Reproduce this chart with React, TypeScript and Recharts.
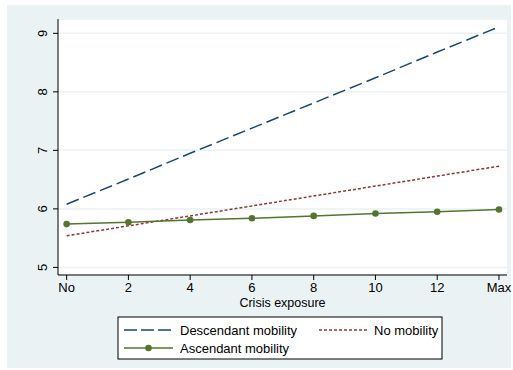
import { LineChart, Line, XAxis, YAxis, CartesianGrid } from 'recharts';

const exposure = [0, 2, 4, 6, 8, 10, 12, 14];
const xTickLabels = ['No', '2', '4', '6', '8', '10', '12', 'Max'];
const yTicks = [5, 6, 7, 8, 9];

const descendant = [6.08, 6.51, 6.95, 7.38, 7.81, 8.24, 8.68, 9.11];
const noMobility = [5.54, 5.71, 5.88, 6.05, 6.22, 6.39, 6.56, 6.73];
const ascendant = [5.74, 5.77, 5.81, 5.84, 5.88, 5.92, 5.95, 5.99];

const NAVY = '#1a476f';
const MAROON = '#90353b';
const GREEN = '#55752f';
const BG = '#eaf2f3';
const FONT = '"Liberation Sans", Arial, sans-serif';

const data = exposure.map((x, i) => ({
  x,
  descendant: descendant[i],
  noMobility: noMobility[i],
  ascendant: ascendant[i],
}));

const YTick = ({ x, y, payload }: any) => (
  <text
    x={x}
    y={y}
    transform={`rotate(-90, ${x}, ${y})`}
    textAnchor="middle"
    fontSize={13}
    fontFamily={FONT}
    fill="#000"
  >
    {payload.value}
  </text>
);

const LegendBox = () => (
  <svg
    width={326}
    height={44}
    style={{ position: 'absolute', left: 117, top: 316 }}
  >
    <rect x={1} y={1} width={324} height={42} fill="#fff" stroke="#000" strokeWidth={1} />
    <line x1={7} x2={56} y1={14} y2={14} stroke={NAVY} strokeWidth={1.5} strokeDasharray="13 4" />
    <text x={63} y={18.5} fontSize={13} fontFamily={FONT}>Descendant mobility</text>
    <line x1={202} x2={250} y1={14} y2={14} stroke={MAROON} strokeWidth={1.5} strokeDasharray="3 2" />
    <text x={257} y={18.5} fontSize={13} fontFamily={FONT}>No mobility</text>
    <line x1={7} x2={56} y1={32} y2={32} stroke={GREEN} strokeWidth={1.5} />
    <circle cx={31.5} cy={32} r={3.3} fill={GREEN} />
    <text x={63} y={36.5} fontSize={13} fontFamily={FONT}>Ascendant mobility</text>
  </svg>
);

export default function App() {
  return (
    <div style={{ position: 'absolute', left: 0, top: 0, width: 513, height: 370, background: '#fff' }}>
      <div style={{ position: 'absolute', left: 7, top: 5, width: 504, height: 363, background: BG }} />
      <div style={{ position: 'absolute', left: 0, top: 0 }}>
        <LineChart
          width={513}
          height={370}
          data={data}
          margin={{ top: 19, right: 6, left: 0, bottom: 55 }}
        >
          <CartesianGrid vertical={false} fill="#fff" stroke={BG} strokeWidth={1.5} />
          <XAxis
            dataKey="x"
            type="number"
            domain={[-0.28, 14.26]}
            ticks={exposure}
            tickFormatter={(v: number) => xTickLabels[exposure.indexOf(v)]}
            height={40}
            axisLine={{ stroke: '#000' }}
            tickLine={{ stroke: '#000' }}
            tickSize={5}
            tickMargin={3}
            tick={{ fontSize: 13, fontFamily: FONT, fill: '#000' }}
            label={{
              value: 'Crisis exposure',
              position: 'insideTop',
              offset: 23,
              fontSize: 12.5,
              fontFamily: FONT,
              fill: '#000',
            }}
          />
          <YAxis
            type="number"
            domain={[4.87, 9.245]}
            ticks={yTicks}
            width={58}
            axisLine={{ stroke: '#000' }}
            tickLine={{ stroke: '#000' }}
            tickSize={5}
            tickMargin={6}
            tick={<YTick />}
          />
          <Line
            dataKey="descendant"
            stroke={NAVY}
            strokeWidth={1.5}
            strokeDasharray="13 5"
            dot={false}
            isAnimationActive={false}
          />
          <Line
            dataKey="noMobility"
            stroke={MAROON}
            strokeWidth={1.5}
            strokeDasharray="3 2"
            dot={false}
            isAnimationActive={false}
          />
          <Line
            dataKey="ascendant"
            stroke={GREEN}
            strokeWidth={1.5}
            dot={{ r: 3.3, fill: GREEN, stroke: GREEN, strokeWidth: 0 }}
            isAnimationActive={false}
          />
        </LineChart>
      </div>
      <LegendBox />
    </div>
  );
}
